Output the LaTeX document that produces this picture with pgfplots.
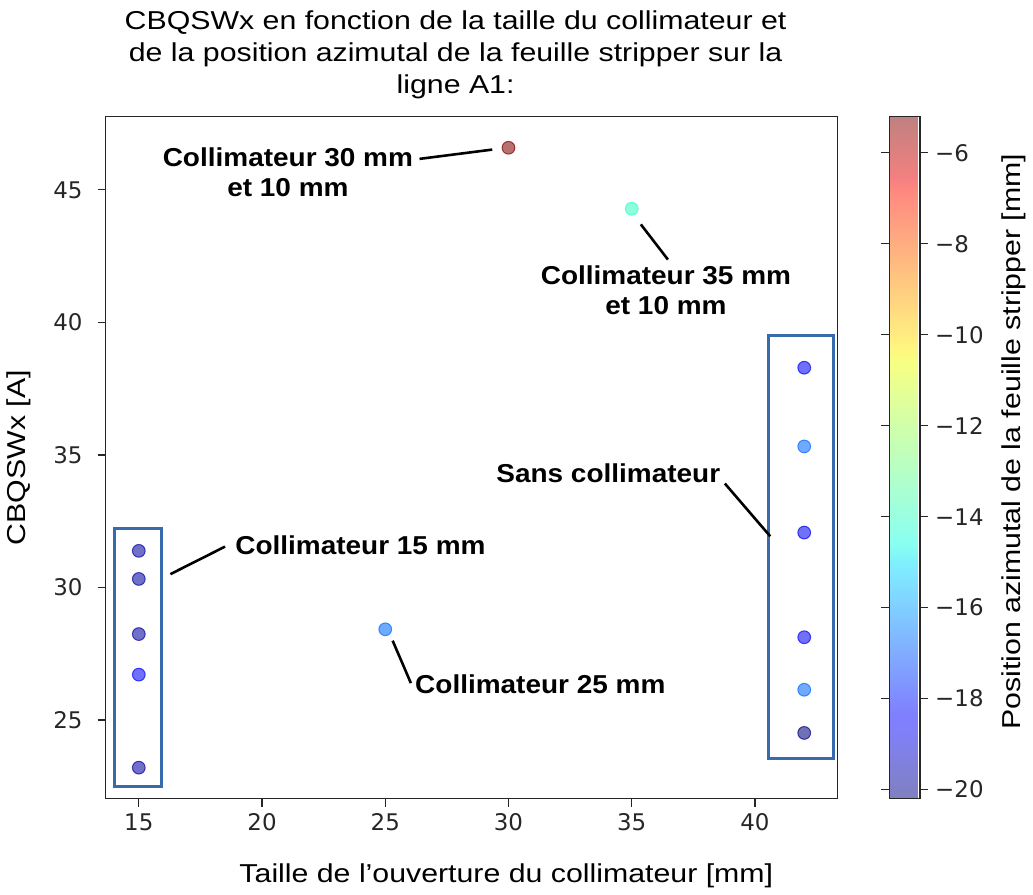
\documentclass[border=0pt]{standalone}
\usepackage{fontspec}
\setmainfont{Liberation Sans}
\newfontfamily\widefont[FakeStretch=1.17]{Liberation Sans}
\newfontfamily\annfont[FakeStretch=1.08]{Liberation Sans}
\newfontfamily\tickfont{DejaVu Sans}
\usepackage{pgfplots}
\pgfplotsset{compat=1.18}
\definecolor{boxblue}{rgb}{0.22,0.42,0.68}
\definecolor{axgray}{rgb}{0.15,0.15,0.15}

\pgfplotstableread{
x y c
15 31.38 -19.8
15 30.32 -19.8
15 28.24 -19.8
15 26.71 -18.5
15 23.20 -19.8
25 28.42 -16.8
30 46.59 -5.2
35 44.29 -14.0
42 38.29 -18.7
42 35.32 -16.8
42 32.07 -18.7
42 28.12 -18.7
42 26.14 -16.8
42 24.51 -20.2
}\datatable

\begin{document}
\begin{tikzpicture}
\begin{axis}[
  width=367.5pt, height=342.5pt, scale only axis,
  xmin=13.65, xmax=43.35, ymin=22.03, ymax=47.77,
  xtick={15,20,...,40}, ytick={25,30,...,45},
  tick align=outside, tick pos=left, major tick length=4pt,
  tick style={axgray, line width=0.6pt},
  ticklabel style={font=\tickfont\fontsize{11.5}{13}\selectfont, text=axgray},
  yticklabel style={xshift=-4pt},
  /pgf/number format/assume math mode=true,
  axis line style={line width=0.8pt, axgray},
  xlabel={Taille de l’ouverture du collimateur [mm]},
  ylabel={CBQSWx [A]},
  label style={font=\widefont\fontsize{13}{15}\selectfont},
  xlabel style={yshift=-9.5pt, xshift=17.5pt},
  ylabel style={yshift=4.5pt},
  title={CBQSWx en fonction de la taille du collimateur et\\de la position azimutal de la feuille stripper sur la\\ligne A1:},
  title style={align=center, font=\widefont\fontsize{13}{16}\selectfont, xshift=-8pt, yshift=-0.5pt},
  colormap={jetfull}{rgb(0pt)=(0,0,0.5) rgb(22pt)=(0,0,1) rgb(25pt)=(0,0,1) rgb(68pt)=(0,0.86,1) rgb(70pt)=(0,0.9,0.968) rgb(75pt)=(0.081,1,0.887) rgb(128pt)=(0.935,1,0.032) rgb(130pt)=(0.968,0.963,0) rgb(132pt)=(1,0.926,0) rgb(178pt)=(1,0.074,0) rgb(182pt)=(0.909,0,0) rgb(200pt)=(0.5,0,0)},
  point meta min=-20.2, point meta max=-5.2,
  colorbar,
  colorbar style={
    colormap={jetpale}{rgb(0pt)=(0.5,0.5,0.75) rgb(22pt)=(0.5,0.5,1) rgb(25pt)=(0.5,0.5,1) rgb(68pt)=(0.5,0.93,1) rgb(70pt)=(0.5,0.95,0.984) rgb(75pt)=(0.54,1,0.944) rgb(128pt)=(0.968,1,0.516) rgb(130pt)=(0.984,0.982,0.5) rgb(132pt)=(1,0.963,0.5) rgb(178pt)=(1,0.537,0.5) rgb(182pt)=(0.955,0.5,0.5) rgb(200pt)=(0.75,0.5,0.5)},
    width=15.5pt,
    at={(parent axis.north east)}, anchor=north west, xshift=17.5pt,
    ytick={-20,-18,...,-6},
    yticklabels={−20,−18,−16,−14,−12,−10,−8,−6},
    tick align=outside, major tick length=4pt,
    tick style={axgray, line width=0.6pt},
    yticklabel pos=right,
    ticklabel style={font=\tickfont\fontsize{11.5}{13}\selectfont, text=axgray},
    axis line style={line width=0.8pt, axgray},
    ylabel={Position azimutal de la feuille stripper [mm]},
    ylabel style={font=\widefont\fontsize{13}{15}\selectfont, xshift=8pt, yshift=-2.5pt},
  },
  clip=false,
]
\addplot[scatter, only marks, mark=*, mark size=3.2pt, point meta=explicit,
  scatter/use mapped color={draw=mapped color, fill=mapped color},
  fill opacity=0.56, draw opacity=0.7, line width=0.5pt]
  table[x=x, y=y, meta=c] {\datatable};

\draw[boxblue, line width=1.5pt] (axis cs:14.02,22.49) rectangle (axis cs:15.94,32.23);
\draw[boxblue, line width=1.5pt] (axis cs:40.55,23.53) rectangle (axis cs:43.2,39.52);

\draw[black, line width=1.3pt] (axis cs:16.28,30.5) -- (axis cs:18.5,31.54);
\draw[black, line width=1.3pt] (axis cs:25.3,27.99) -- (axis cs:26.04,26.39);
\draw[black, line width=1.3pt] (axis cs:26.39,46.17) -- (axis cs:29.34,46.52);
\draw[black, line width=1.3pt] (axis cs:35.37,43.7) -- (axis cs:36.47,42.37);
\draw[black, line width=1.3pt] (axis cs:38.78,33.92) -- (axis cs:40.62,31.93);

\begin{scope}[every node/.style={font=\annfont\bfseries\fontsize{13}{15}\selectfont, align=center, inner sep=0pt}]
\node[anchor=west] at (axis cs:18.9,31.6) {Collimateur 15 mm};
\node[anchor=west] at (axis cs:26.2,26.34) {Collimateur 25 mm};
\node at (axis cs:21.05,45.65) {Collimateur 30 mm\\et 10 mm};
\node at (axis cs:36.39,41.2) {Collimateur 35 mm\\et 10 mm};
\node at (axis cs:34.05,34.3) {Sans collimateur};
\end{scope}
\end{axis}
\path ([yshift=2pt]current bounding box.north);
\end{tikzpicture}
\end{document}
